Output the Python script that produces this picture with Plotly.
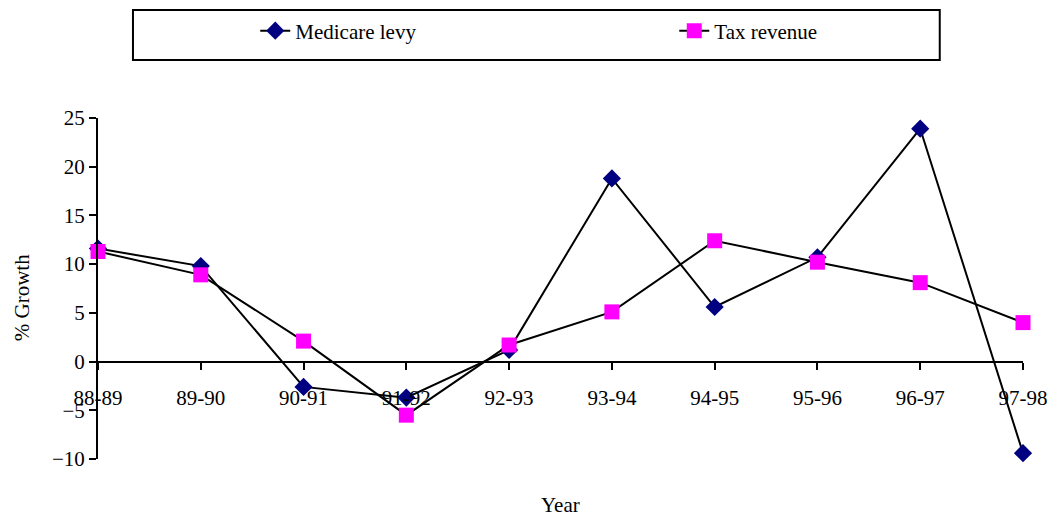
import plotly.graph_objects as go

# Financial years on the category axis
years = ["88-89", "89-90", "90-91", "91-92", "92-93",
         "93-94", "94-95", "95-96", "96-97", "97-98"]

# Annual % growth
medicare_levy = [11.6, 9.8, -2.6, -3.7, 1.2, 18.8, 5.6, 10.7, 23.9, -9.4]
tax_revenue = [11.3, 8.9, 2.1, -5.5, 1.7, 5.1, 12.4, 10.2, 8.1, 4.0]

y_ticks = [-10, -5, 0, 5, 10, 15, 20, 25]
y_min, y_max = -10, 25

serif = "Liberation Serif, Times New Roman, serif"
fs = 21

fig = go.Figure()
fig.add_trace(go.Scatter(
    x=years, y=medicare_levy, name="Medicare levy", mode="lines+markers",
    line=dict(color="black", width=2),
    marker=dict(symbol="diamond", size=14, color="#000080"),
    cliponaxis=False, legend="legend",
))
fig.add_trace(go.Scatter(
    x=years, y=tax_revenue, name="Tax revenue", mode="lines+markers",
    line=dict(color="black", width=2),
    marker=dict(symbol="square", size=15, color="#FF00FF"),
    cliponaxis=False, legend="legend2",
))

# Legend frame
fig.add_shape(type="rect", xref="paper", yref="paper",
              x0=0.0378, x1=0.910, y0=1.170, y1=1.317,
              line=dict(color="black", width=2), fillcolor="rgba(0,0,0,0)")

fig.add_annotation(text="Year", xref="paper", yref="paper", x=0.5, y=-0.135,
                   showarrow=False, font=dict(family=serif, size=fs, color="black"),
                   xanchor="center", yanchor="middle")
fig.add_annotation(text="% Growth", xref="paper", yref="paper", x=-0.082, y=0.472,
                   textangle=-90, showarrow=False,
                   font=dict(family=serif, size=fs, color="black"),
                   xanchor="center", yanchor="middle")

legend_style = dict(yanchor="middle", xanchor="left", y=1.255,
                    bgcolor="rgba(0,0,0,0)",
                    font=dict(family=serif, size=fs, color="black"))

fig.update_layout(
    width=1052, height=517,
    margin=dict(l=98, r=29, t=118, b=58, autoexpand=False),
    paper_bgcolor="white", plot_bgcolor="white",
    font=dict(family=serif, size=fs, color="black"),
    showlegend=True,
    legend=dict(x=0.170, **legend_style),
    legend2=dict(x=0.623, **legend_style),
    xaxis=dict(
        type="category", range=[0, len(years) - 1],
        anchor="free", position=(0 - y_min) / (y_max - y_min),
        showline=True, linecolor="black", linewidth=2,
        ticks="outside", ticklen=7, tickwidth=2, tickcolor="black",
        showgrid=False, zeroline=False, ticklabelstandoff=10,
        tickfont=dict(family=serif, size=fs, color="black"),
    ),
    yaxis=dict(
        range=[y_min, y_max], tickvals=y_ticks,
        showline=True, linecolor="black", linewidth=2,
        ticks="outside", ticklen=7, tickwidth=2, tickcolor="black",
        showgrid=False, zeroline=False,
        tickfont=dict(family=serif, size=fs, color="black"),
    ),
)

fig.write_html("out.html")
